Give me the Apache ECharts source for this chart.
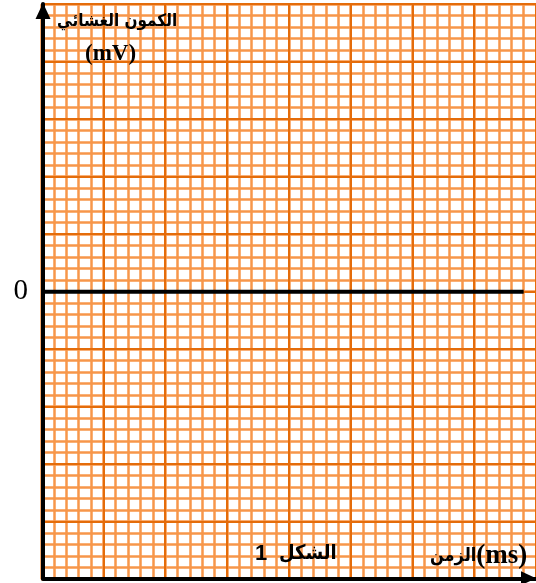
<!DOCTYPE html>
<html><head><meta charset="utf-8">
<script src="https://cdn.jsdelivr.net/npm/echarts@6/dist/echarts.min.js"></script>
<style>html,body{margin:0;padding:0;background:#fff}#c{width:536px;height:583px}</style>
</head><body><div id="c"></div>
<script>
// Graph-paper extent in minor-cell units
const xExtent = [0, 40];
const yExtent = [-25, 25];
const majorStep = 5;
// Tick labels
const yTickValues = [0];
const yTickLabels = ['0'];
// Zero (baseline) line
const baselineX = [0, 39];
const baselineY = [0, 0];
// Texts
const yTitle = ['الكمون الغشائي', '(mV)'];
const xTitle = ['الزمن', '(ms)'];
const figureLabel = ['1', 'الشكل'];

const minorColor = '#F7964A';
const majorColor = '#E46C0A';
const paperRect = {left: 41.5, top: 4.2, width: 499.2, height: 575};
const arFont = '"DejaVu Sans Condensed", "DejaVu Sans"';

const chart = echarts.init(document.getElementById('c'), null, {renderer: 'canvas'});

function paperAxis(gi, ext, major, z) {
  return {
    type: 'value', gridIndex: gi, min: ext[0], max: ext[1], interval: majorStep, z: z,
    axisLine: {show: false}, axisTick: {show: false}, axisLabel: {show: false},
    splitLine: {show: true, lineStyle: {color: major ? majorColor : minorColor, width: major ? 2 : 2.5}},
    minorTick: {show: false, splitNumber: 5},
    minorSplitLine: {show: !major, lineStyle: {color: minorColor, width: 2.5}}
  };
}

const option = {
  animation: false,
  grid: [
    Object.assign({}, paperRect),
    Object.assign({}, paperRect),
    {left: 43, top: 4, width: 493, height: 574.3}
  ],
  xAxis: [
    paperAxis(0, xExtent, false, 0),
    paperAxis(1, xExtent, true, 1),
    {type: 'value', gridIndex: 2, min: 0, max: 1, z: 5,
     axisLine: {show: true, onZero: false, symbol: ['none', 'triangle'], symbolSize: [14, 15], symbolOffset: [0, -7.5],
       lineStyle: {color: '#000', width: 4}},
     axisTick: {show: false}, axisLabel: {show: false}, splitLine: {show: false}}
  ],
  yAxis: [
    paperAxis(0, yExtent, false, 0),
    paperAxis(1, yExtent, true, 1),
    {type: 'value', gridIndex: 2, min: yExtent[0], max: yExtent[1], interval: majorStep, z: 5,
     axisLine: {show: true, onZero: false, symbol: ['none', 'triangle'], symbolSize: [15, 16], symbolOffset: [0, -7],
       lineStyle: {color: '#000', width: 4}},
     axisTick: {show: false}, splitLine: {show: false},
     axisLabel: {show: true, margin: 15, color: '#000', fontFamily: 'Liberation Serif', fontSize: 29,
       formatter: function (v) { const i = yTickValues.indexOf(v); return i >= 0 ? yTickLabels[i] : ''; }}}
  ],
  series: [{
    type: 'line', xAxisIndex: 0, yAxisIndex: 0, z: 4, symbol: 'none', silent: true,
    data: baselineX.map((x, i) => [x, baselineY[i]]),
    lineStyle: {color: '#000', width: 4}
  }],
  graphic: [
    {type: 'text', left: 57, top: 13, z: 10, style: {text: yTitle[0], fill: '#000',
      font: 'bold 17px ' + arFont}},
    {type: 'text', left: 85, top: 43, z: 10, style: {text: yTitle[1], fill: '#000',
      font: 'bold 23px "Liberation Serif"'}},
    {type: 'text', left: 255, top: 543, z: 10, style: {
      text: '{n|' + figureLabel[0] + '}  {a|' + figureLabel[1] + '}',
      rich: {n: {fontFamily: 'Liberation Sans', fontWeight: 'bold', fontSize: 22, fill: '#000', color: '#000'},
             a: {fontFamily: arFont, fontWeight: 'bold', fontSize: 20, fill: '#000', color: '#000', padding: [0, 0, 0, 5]}}}},
    {type: 'text', left: 430, top: 543, z: 10, style: {
      text: '{a|' + xTitle[0] + '}{b|' + xTitle[1] + '}',
      rich: {a: {fontFamily: arFont, fontWeight: 'bold', fontSize: 18, fill: '#000', color: '#000'},
             b: {fontFamily: 'Liberation Serif', fontWeight: 'bold', fontSize: 27, fill: '#000', color: '#000'}}}}
  ]
};
chart.setOption(option);
</script></body></html>
